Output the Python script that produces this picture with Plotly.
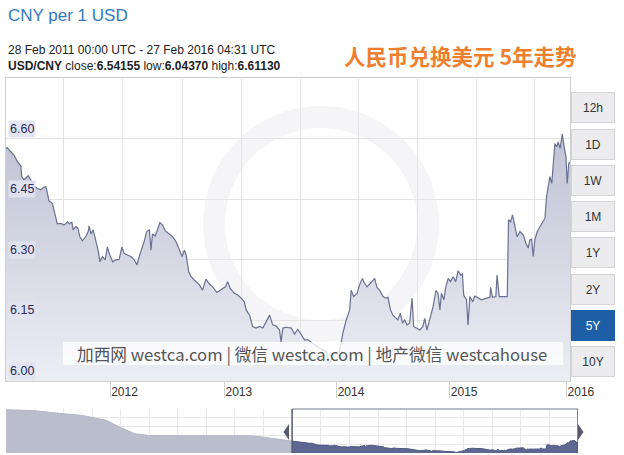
import plotly.graph_objects as go
import pandas as pd

# ---------------- data ----------------
START = "2011-02-28"
day_offsets = [0, 4, 15, 26, 37, 48, 51, 58, 72, 80, 91, 101, 112, 123, 129, 134, 139, 150, 156, 161,
               166, 177, 188, 199, 206, 213, 217, 226, 233, 239, 247, 258, 266, 269, 275, 282, 291, 298,
               304, 312, 321, 328, 334, 345, 356, 366, 375, 382, 393, 404, 415, 424, 431, 442, 447, 455,
               464, 469, 474, 483, 490, 498, 507, 515, 528, 539, 550, 561, 570, 577, 583, 591, 599, 609,
               626, 636, 647, 658, 669, 682, 696, 710, 717, 725, 739, 750, 761, 771, 777, 788, 798, 809,
               820, 831, 842, 853, 863, 874, 885, 890, 896, 907, 923, 934, 944, 955, 966, 977, 993, 1015,
               1036, 1047, 1063, 1079, 1090, 1101, 1112, 1117, 1125, 1136, 1144, 1153, 1160, 1168, 1177,
               1185, 1193, 1200, 1209, 1220, 1229, 1236, 1244, 1252, 1261, 1268, 1276, 1283, 1290, 1298,
               1306, 1314, 1319, 1328, 1339, 1349, 1355, 1362, 1371, 1382, 1391, 1398, 1404, 1409, 1417,
               1423, 1431, 1438, 1447, 1455, 1463, 1471, 1477, 1481, 1490, 1495, 1501, 1510, 1517, 1528,
               1539, 1555, 1566, 1568, 1574, 1585, 1589, 1596, 1622, 1626, 1633, 1639, 1647, 1654, 1663,
               1674, 1682, 1690, 1695, 1701, 1706, 1711, 1719, 1728, 1736, 1744, 1749, 1755, 1760, 1766,
               1771, 1776, 1782, 1787, 1793, 1800, 1806, 1812, 1816, 1821, 1825]
rates = [6.576, 6.578, 6.568, 6.559, 6.543, 6.532, 6.506, 6.498, 6.508, 6.498, 6.483, 6.477, 6.473, 6.480,
         6.481, 6.465, 6.446, 6.440, 6.419, 6.399, 6.389, 6.390, 6.386, 6.394, 6.389, 6.394, 6.374, 6.382,
         6.378, 6.357, 6.347, 6.357, 6.370, 6.384, 6.364, 6.374, 6.345, 6.324, 6.295, 6.308, 6.300, 6.332,
         6.316, 6.295, 6.300, 6.301, 6.332, 6.316, 6.312, 6.308, 6.300, 6.287, 6.308, 6.332, 6.345, 6.370,
         6.374, 6.324, 6.364, 6.359, 6.374, 6.392, 6.386, 6.372, 6.364, 6.357, 6.345, 6.324, 6.308, 6.324,
         6.312, 6.271, 6.258, 6.250, 6.238, 6.225, 6.252, 6.240, 6.233, 6.219, 6.227, 6.233, 6.246, 6.230,
         6.217, 6.213, 6.205, 6.196, 6.176, 6.163, 6.135, 6.131, 6.135, 6.131, 6.147, 6.163, 6.139, 6.136,
         6.126, 6.097, 6.131, 6.133, 6.131, 6.116, 6.128, 6.116, 6.102, 6.102, 6.093, 6.081, 6.073, 6.0437,
         6.069, 6.073, 6.118, 6.151, 6.176, 6.225, 6.209, 6.217, 6.238, 6.254, 6.242, 6.233, 6.240, 6.246,
         6.254, 6.232, 6.225, 6.209, 6.205, 6.207, 6.176, 6.163, 6.155, 6.151, 6.168, 6.143, 6.151, 6.139,
         6.143, 6.205, 6.135, 6.131, 6.126, 6.135, 6.155, 6.126, 6.155, 6.184, 6.224, 6.217, 6.176, 6.217,
         6.201, 6.233, 6.254, 6.246, 6.258, 6.246, 6.273, 6.262, 6.265, 6.213, 6.201, 6.139, 6.209, 6.196,
         6.210, 6.205, 6.201, 6.205, 6.207, 6.232, 6.207, 6.209, 6.262, 6.209, 6.209, 6.399, 6.394, 6.411,
         6.382, 6.357, 6.370, 6.361, 6.341, 6.329, 6.349, 6.351, 6.308, 6.349, 6.370, 6.382, 6.394, 6.403,
         6.456, 6.481, 6.506, 6.489, 6.539, 6.588, 6.580, 6.592, 6.576, 6.6113, 6.580, 6.555, 6.489, 6.539,
         6.54155]

hist_dates = ["2006-02-28", "2006-05-31", "2006-08-31", "2006-12-31", "2007-06-30", "2007-11-30",
              "2008-02-29", "2008-05-31", "2008-08-31", "2009-03-31", "2009-10-31", "2010-05-31",
              "2010-08-31", "2010-11-30", "2011-02-28"]
hist_rates = [8.05, 8.03, 8.00, 7.90, 7.78, 7.55, 7.21, 6.92, 6.84, 6.83, 6.83, 6.83, 6.76, 6.66, 6.576]

y_ticks = [6.00, 6.15, 6.30, 6.45, 6.60]
y_tick_labels = ["6.00", "6.15", "6.30", "6.45", "6.60"]
x_tick_dates = ["2012-01-31", "2013-02-04", "2014-02-02", "2015-02-03", "2016-02-16"]
x_tick_labels = ["2012", "2013", "2014", "2015", "2016"]
x_grid_dates = ["2011-09-01", "2012-03-10", "2012-09-20", "2013-03-31", "2013-10-08",
                "2014-04-14", "2014-10-22", "2015-05-02", "2015-11-05"]
nav_y_grid = [6.40, 6.82, 7.24, 7.66]
buttons = ["12h", "1D", "1W", "1M", "1Y", "2Y", "5Y", "10Y"]
active_button = "5Y"

# ---------------- geometry helpers ----------------
W, H = 624, 455
ML, MR, MT, MB = 6, 46, 78, 2
PW = W - ML - MR
PH = H - MT - MB


def px(x):
    return (x - ML) / PW


def py(y):
    return (H - MB - y) / PH


dates = pd.Timestamp(START) + pd.to_timedelta(day_offsets, unit="D")
hist_x = pd.to_datetime(hist_dates)

fig = go.Figure()

# main series
fig.add_trace(go.Scatter(
    x=dates, y=rates, mode="lines",
    line=dict(color="#6a7092", width=1.2),
    fill="tozeroy",
    fillgradient=dict(type="vertical", start=6.0, stop=6.62,
                      colorscale=[[0, "#eceef4"], [1, "#bec2d3"]]),
    xaxis="x", yaxis="y", hoverinfo="skip", showlegend=False))

# navigator: unselected history
fig.add_trace(go.Scatter(
    x=hist_x, y=hist_rates, mode="lines",
    line=dict(color="#b3b7c7", width=1),
    fill="tozeroy", fillcolor="#b9bdcc",
    xaxis="x2", yaxis="y2", hoverinfo="skip", showlegend=False))
# navigator: selected 5Y
fig.add_trace(go.Scatter(
    x=dates, y=rates, mode="lines",
    line=dict(color="#4b5580", width=1),
    fill="tozeroy", fillcolor="#5d6792",
    xaxis="x2", yaxis="y2", hoverinfo="skip", showlegend=False))

annotations = []
shapes = []

# header texts
annotations.append(dict(xref="paper", yref="paper", x=px(6), y=py(15), xanchor="left", yanchor="middle",
                        text="CNY per 1 USD", showarrow=False,
                        font=dict(family="Liberation Sans, Arial", size=17, color="#3479bd")))
annotations.append(dict(xref="paper", yref="paper", x=px(6), y=py(50), xanchor="left", yanchor="middle",
                        text="28 Feb 2011 00:00 UTC - 27 Feb 2016 04:31 UTC", showarrow=False,
                        font=dict(family="Liberation Sans, Arial", size=12, color="#222222")))
annotations.append(dict(xref="paper", yref="paper", x=px(6), y=py(66), xanchor="left", yanchor="middle",
                        text="<b>USD/CNY</b> close:<b>6.54155</b> low:<b>6.04370</b> high:<b>6.61130</b>",
                        showarrow=False,
                        font=dict(family="Liberation Sans, Arial", size=12, color="#222222")))
annotations.append(dict(xref="paper", yref="paper", x=px(460.5), y=py(55), xanchor="center", yanchor="middle",
                        text="<b>人民币兑换美元 5年走势</b>", showarrow=False,
                        font=dict(family="Noto Sans CJK SC", size=21.5, color="#ef7f2e")))

# y tick labels (inside, with soft box)
for v, t in zip(y_ticks, y_tick_labels):
    annotations.append(dict(xref="paper", yref="y", x=px(8), y=v, xanchor="left", yanchor="bottom",
                            yshift=1, text=t, showarrow=False, borderpad=1,
                            bgcolor="rgba(224,227,240,0.9)",
                            font=dict(family="Liberation Sans, Arial", size=12.5, color="#2a2c5c")))

# range buttons
for i, b in enumerate(buttons):
    cy = 108 + i * 36.2
    act = b == active_button
    annotations.append(dict(xref="paper", yref="paper", x=px(593), y=py(cy), xanchor="center",
                            yanchor="middle", width=42, height=29, text=b, showarrow=False,
                            bgcolor="#1d5ea6" if act else "#ececee",
                            bordercolor="#1d5ea6" if act else "#d3d3d8", borderwidth=1, borderpad=0,
                            font=dict(family="Liberation Sans, Arial", size=12,
                                      color="#ffffff" if act else "#333333")))

# watermark ring
shapes.append(dict(type="circle", xref="paper", yref="paper", x0=px(214), x1=px(428), y0=py(331), y1=py(117),
                   line=dict(color="#f5f5f8", width=22), layer="below"))

# watermark text band
shapes.append(dict(type="rect", xref="paper", yref="paper", x0=px(63), x1=px(563), y0=py(365), y1=py(342),
                   fillcolor="rgba(255,255,255,0.78)", line=dict(width=0), layer="above"))
annotations.append(dict(xref="paper", yref="paper", x=px(312), y=py(353.5), xanchor="center", yanchor="middle",
                        text="加西网 westca.com | 微信 westca.com | 地产微信 westcahouse", showarrow=False,
                        font=dict(family="Noto Sans CJK SC", size=16.7, color="#555555")))

# navigator selection frame
sel0, sel1 = dates[0], dates[-1]
nav_top = py(409)
shapes.append(dict(type="line", xref="x2", yref="paper", x0=sel0, x1=sel0, y0=0, y1=nav_top,
                   line=dict(color="#555a70", width=1.5)))
shapes.append(dict(type="line", xref="x2", yref="paper", x0=sel1, x1=sel1, y0=0, y1=nav_top,
                   line=dict(color="#555a70", width=1.5)))
shapes.append(dict(type="line", xref="x2", yref="paper", x0=sel0, x1=sel1, y0=nav_top, y1=nav_top,
                   line=dict(color="#777b8c", width=1)))
shapes.append(dict(type="path", xref="paper", yref="paper",
                   path=f"M {px(289)},{py(424)} L {px(283.5)},{py(432)} L {px(289)},{py(440)} Z",
                   fillcolor="#555a70", line=dict(width=0)))
shapes.append(dict(type="path", xref="paper", yref="paper",
                   path=f"M {px(578)},{py(424)} L {px(583.5)},{py(432)} L {px(578)},{py(440)} Z",
                   fillcolor="#555a70", line=dict(width=0)))

fig.update_layout(
    width=W, height=H,
    margin=dict(l=ML, r=MR, t=MT, b=MB, pad=0),
    paper_bgcolor="white", plot_bgcolor="white",
    showlegend=False,
    xaxis=dict(domain=[0, px(570)], type="date", range=[dates[0], dates[-1]], anchor="y",
               tickmode="array", tickvals=x_tick_dates, ticktext=x_tick_labels,
               ticks="outside", ticklen=16, tickcolor="#d0d0d0", ticklabelposition="outside right",
               tickfont=dict(family="Liberation Sans, Arial", size=12, color="#333333"),
               showgrid=False,
               minor=dict(tickmode="array", tickvals=x_grid_dates, showgrid=True, gridcolor="#e4e4e4",
                          ticks=""),
               showline=True, linecolor="#d0d0d0", mirror=True, zeroline=False, fixedrange=True),
    yaxis=dict(domain=[py(381), 1], range=[6.0, 6.75], anchor="x",
               tickmode="array", tickvals=y_ticks[1:], showticklabels=False,
               showgrid=True, gridcolor="#e4e4e4",
               showline=True, linecolor="#d0d0d0", mirror=True, zeroline=False, fixedrange=True),
    xaxis2=dict(domain=[0, 1], type="date", range=[hist_x[0], dates[-1]], anchor="y2",
                showticklabels=False, tick0=hist_dates[0], dtick="M6",
                showgrid=True, gridcolor="#e8e8e8", showline=False, zeroline=False, fixedrange=True),
    yaxis2=dict(domain=[0, py(409)], range=[6.02, 8.08], anchor="x2",
                tickmode="array", tickvals=nav_y_grid, showticklabels=False,
                showgrid=True, gridcolor="#e8e8e8", showline=False, zeroline=False, fixedrange=True),
    annotations=annotations,
    shapes=shapes,
)

fig.write_html("out.html", config={"displayModeBar": False},
               post_script="document.body.style.margin='0';document.body.style.overflow='hidden';")
